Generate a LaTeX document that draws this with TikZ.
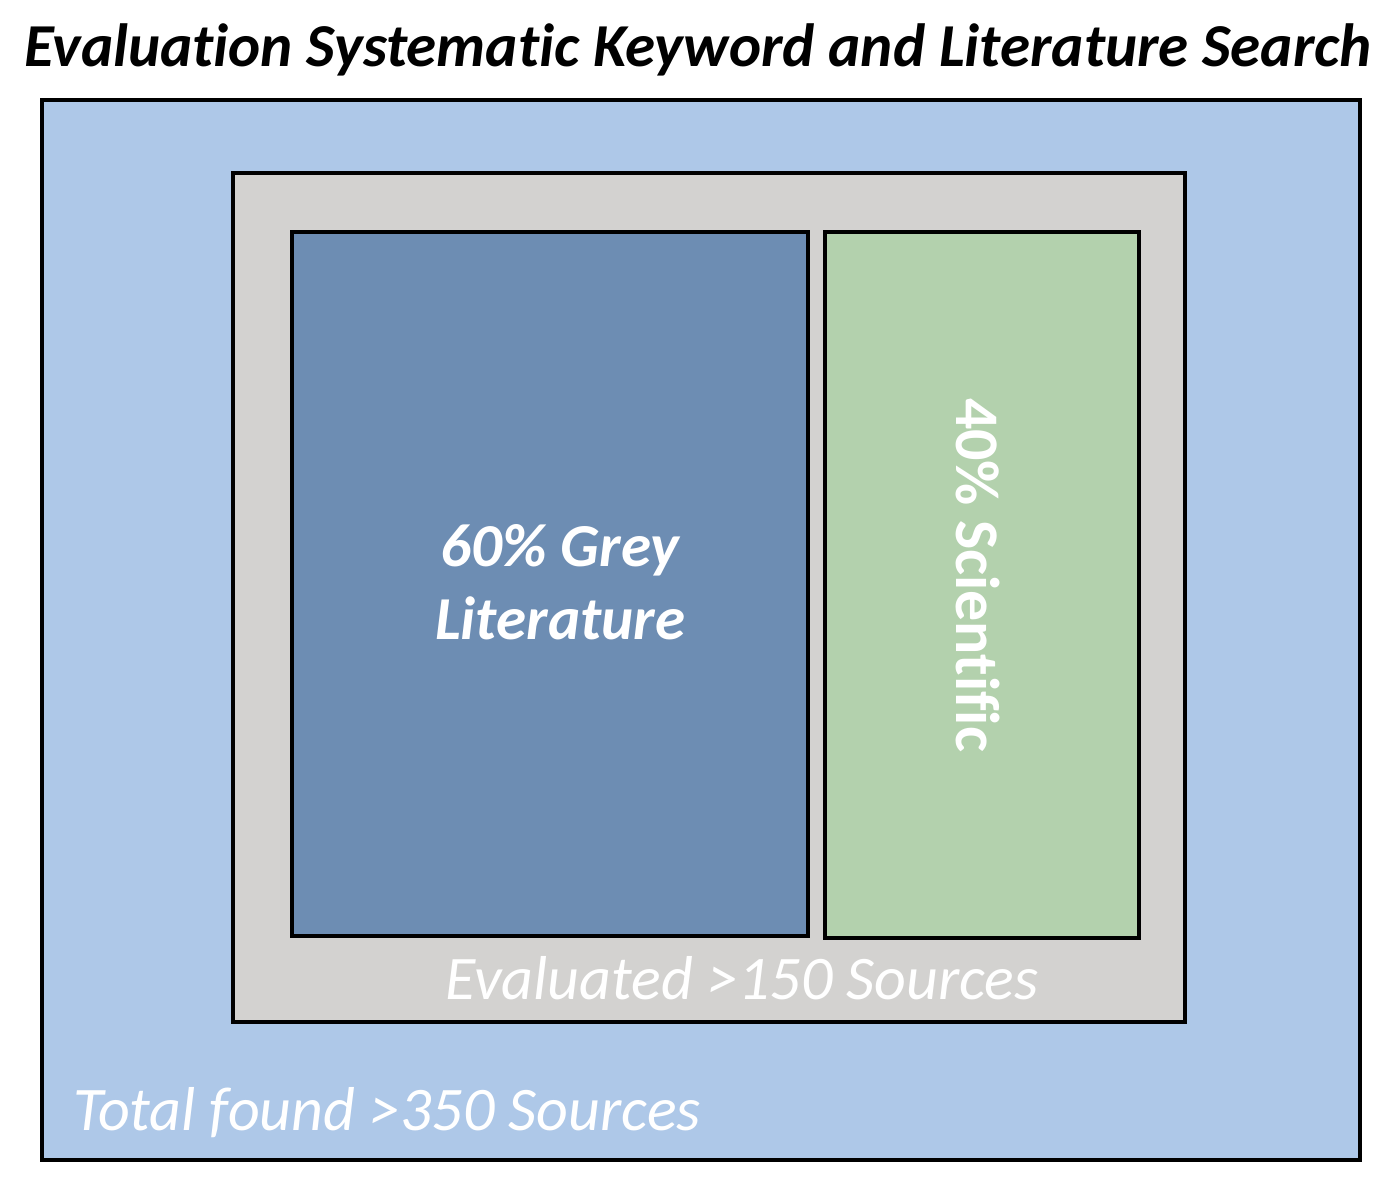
\documentclass[tikz,border=0pt]{standalone}
\usepackage{fontspec}
\setmainfont{Carlito}[Ligatures=NoCommon]
\definecolor{outerblue}{HTML}{AEC8E8}
\definecolor{evalgrey}{HTML}{D3D2D0}
\definecolor{greyblue}{HTML}{6D8DB3}
\definecolor{scigreen}{HTML}{B3D1AD}
\tikzset{
  box/.style={draw=black,line width=4pt,rectangle,inner sep=0pt},
  whitelabel/.style={text=white,font=\fontsize{62}{72}\selectfont\itshape}
}
\begin{document}
\begin{tikzpicture}[x=1pt,y=-1pt]
                \useasboundingbox (0,0) rectangle (1397,1200);
                \node[box,fill=outerblue,minimum width=1318pt,minimum height=1060pt] (total) at (701,630) {};
                \node[box,fill=evalgrey,minimum width=952pt,minimum height=849pt] (evaluated) at (709,597.5) {};
                \node[box,fill=greyblue,minimum width=516pt,minimum height=704pt] (grey) at (550,584) {};
                \node[box,fill=scigreen,minimum width=314pt,minimum height=706pt] (sci) at (982,585) {};
                \node[font=\fontsize{61}{70}\selectfont\bfseries\itshape] (title) at (698,50) {Evaluation Systematic Keyword and Literature Search};
                \node[whitelabel,font=\fontsize{61}{73}\selectfont\bfseries\itshape,align=center] (greytext) at (560,582) {60\% Grey\\Literature};
                \node[text=white,font=\fontsize{62}{72}\selectfont\bfseries,rotate=-90] (scitext) at (978,575) {40\% Scientific};
                \node[whitelabel] (evaltext) at (742,978) {Evaluated >150 Sources};
                \node[whitelabel,anchor=west,inner sep=0pt] (totaltext) at (73,1113) {Total found >350 Sources};
            \end{tikzpicture}
\end{document}
